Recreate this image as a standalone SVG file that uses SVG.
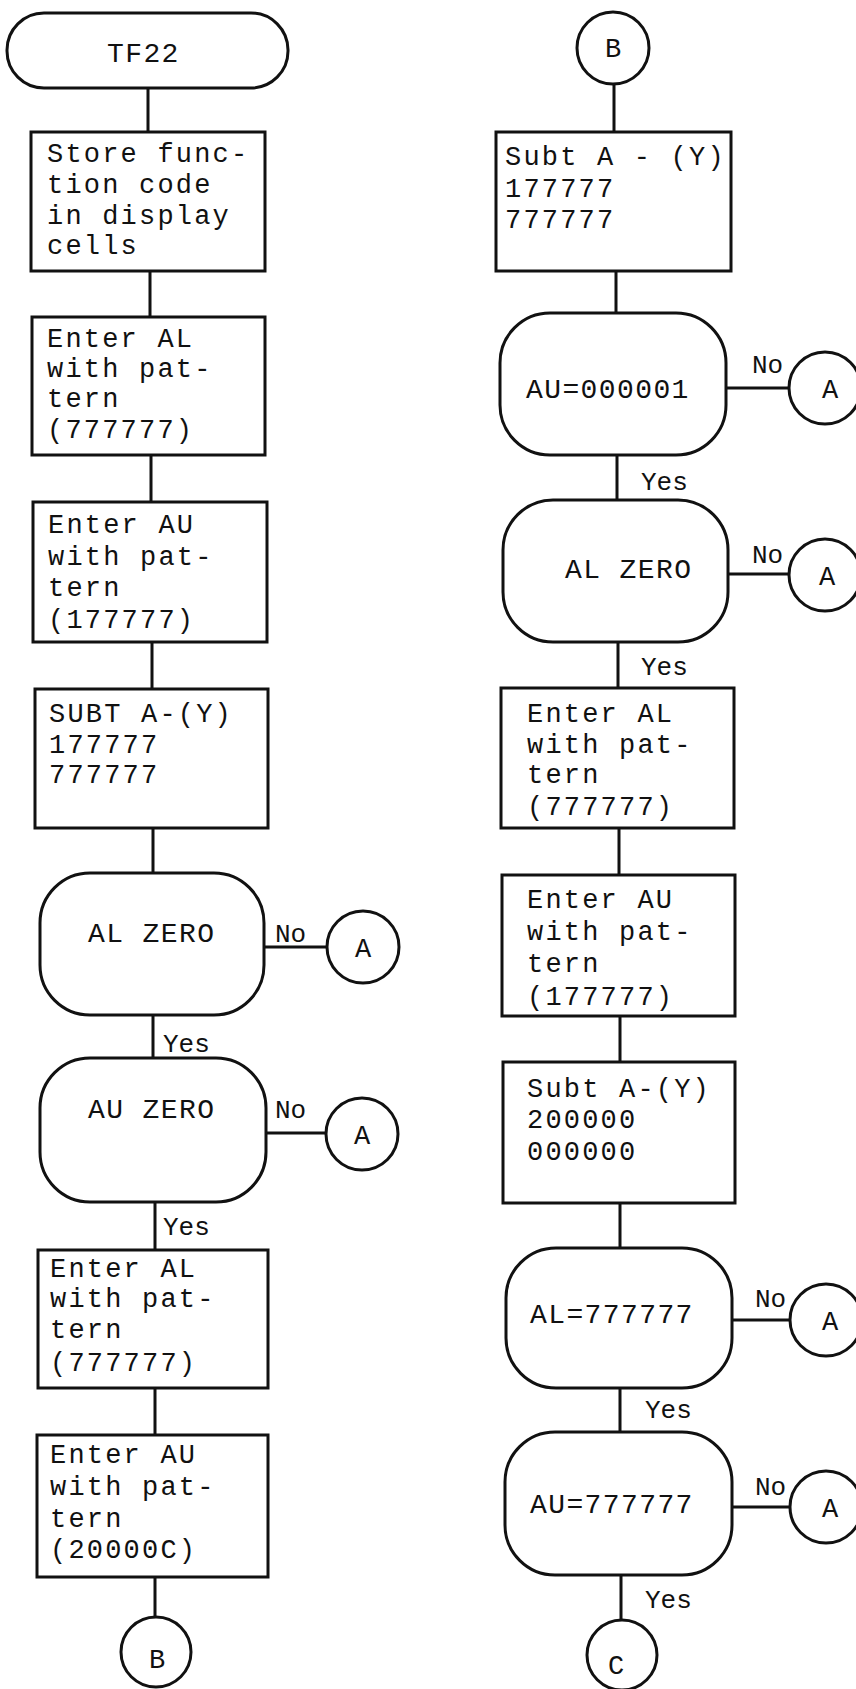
<svg xmlns="http://www.w3.org/2000/svg" width="856" height="1689" viewBox="0 0 856 1689">
<style>
.shape{fill:none;stroke:#111;stroke-width:3}
.conn{stroke:#111;stroke-width:3;fill:none}
.t{font-family:"Liberation Mono","Courier New",monospace;font-size:27px;letter-spacing:2.2px;fill:#111}
.d{font-family:"Liberation Mono","Courier New",monospace;font-size:28px;letter-spacing:1.4px;fill:#111}
.c{font-family:"Liberation Mono","Courier New",monospace;font-size:27px;fill:#111;text-anchor:middle}
.l{font-family:"Liberation Mono","Courier New",monospace;font-size:26px;letter-spacing:0px;fill:#111}
</style>
<rect width="856" height="1689" fill="#fff"/>
<g id="connectors">
<path class="conn" d="M148 88V132M150 271V317M151 455V502M152 642V689M153 828V873M264 947H327M153 1015V1058M266 1133H326M155 1202V1250M155 1388V1435M155 1577V1617"/>
<path class="conn" d="M614 84V132M616 271V313M726 388H789M617 455V500M728 574H789M618 642V688M619 828V875M620 1016V1062M620 1203V1248M732 1320H790M620 1388V1432M732 1507H790M621 1575V1620"/>
<text class="l" x="275" y="942">No</text>
<text class="l" x="163" y="1052">Yes</text>
<text class="l" x="275" y="1118">No</text>
<text class="l" x="163" y="1235">Yes</text>
<text class="l" x="752" y="373">No</text>
<text class="l" x="641" y="490">Yes</text>
<text class="l" x="752" y="563">No</text>
<text class="l" x="641" y="675">Yes</text>
<text class="l" x="755" y="1307">No</text>
<text class="l" x="645" y="1418">Yes</text>
<text class="l" x="755" y="1495">No</text>
<text class="l" x="645" y="1608">Yes</text>
</g>
<g id="n_tf22"><rect class="shape" x="7" y="13" width="281" height="75" rx="37"/><text class="d" x="107" y="62">TF22</text></g>
<g id="n_store"><rect class="shape" x="31" y="132" width="234" height="139"/>
<text class="t" x="47" y="162">Store func-</text><text class="t" x="47" y="193">tion code</text><text class="t" x="47" y="224">in display</text><text class="t" x="47" y="254">cells</text></g>
<g id="n_enteral1"><rect class="shape" x="32" y="317" width="233" height="138"/>
<text class="t" x="47" y="347">Enter AL</text><text class="t" x="47" y="377">with pat-</text><text class="t" x="47" y="407">tern</text><text class="t" x="47" y="438">(777777)</text></g>
<g id="n_enterau1"><rect class="shape" x="33" y="502" width="234" height="140"/>
<text class="t" x="48" y="533">Enter AU</text><text class="t" x="48" y="565">with pat-</text><text class="t" x="48" y="596">tern</text><text class="t" x="48" y="628">(177777)</text></g>
<g id="n_subt1"><rect class="shape" x="35" y="689" width="233" height="139"/>
<text class="t" x="49" y="722">SUBT A-(Y)</text><text class="t" x="49" y="753">177777</text><text class="t" x="49" y="783">777777</text></g>
<g id="n_alzero1"><rect class="shape" x="40" y="873" width="224" height="142" rx="50"/><text class="d" x="88" y="942">AL ZERO</text></g>
<g id="n_a1"><circle class="shape" cx="363" cy="947" r="36"/><text class="c" x="363" y="957">A</text></g>
<g id="n_auzero1"><rect class="shape" x="40" y="1058" width="226" height="144" rx="50"/><text class="d" x="88" y="1118">AU ZERO</text></g>
<g id="n_a2"><circle class="shape" cx="362" cy="1134" r="36"/><text class="c" x="362" y="1144">A</text></g>
<g id="n_enteral2"><rect class="shape" x="38" y="1250" width="230" height="138"/>
<text class="t" x="50" y="1277">Enter AL</text><text class="t" x="50" y="1307">with pat-</text><text class="t" x="50" y="1338">tern</text><text class="t" x="50" y="1371">(777777)</text></g>
<g id="n_enterau2"><rect class="shape" x="37" y="1435" width="231" height="142"/>
<text class="t" x="50" y="1463">Enter AU</text><text class="t" x="50" y="1495">with pat-</text><text class="t" x="50" y="1527">tern</text><text class="t" x="50" y="1558">(20000C)</text></g>
<g id="n_b1"><circle class="shape" cx="156" cy="1652" r="35"/><text class="c" x="157" y="1668">B</text></g>
<g id="n_b2"><circle class="shape" cx="613" cy="48" r="36"/><text class="c" x="613" y="57">B</text></g>
<g id="n_subt2"><rect class="shape" x="496" y="132" width="235" height="139"/>
<text class="t" x="505" y="165">Subt A - (Y)</text><text class="t" x="505" y="197">177777</text><text class="t" x="505" y="228">777777</text></g>
<g id="n_au1"><rect class="shape" x="500" y="313" width="226" height="142" rx="50"/><text class="d" x="526" y="398">AU=000001</text></g>
<g id="n_a3"><circle class="shape" cx="825" cy="388" r="36"/><text class="c" x="830" y="398">A</text></g>
<g id="n_alzero2"><rect class="shape" x="503" y="500" width="225" height="142" rx="50"/><text class="d" x="565" y="578">AL ZERO</text></g>
<g id="n_a4"><circle class="shape" cx="825" cy="575" r="36"/><text class="c" x="827" y="585">A</text></g>
<g id="n_enteral3"><rect class="shape" x="501" y="688" width="233" height="140"/>
<text class="t" x="527" y="722">Enter AL</text><text class="t" x="527" y="753">with pat-</text><text class="t" x="527" y="783">tern</text><text class="t" x="527" y="815">(777777)</text></g>
<g id="n_enterau3"><rect class="shape" x="502" y="875" width="233" height="141"/>
<text class="t" x="527" y="908">Enter AU</text><text class="t" x="527" y="940">with pat-</text><text class="t" x="527" y="972">tern</text><text class="t" x="527" y="1005">(177777)</text></g>
<g id="n_subt3"><rect class="shape" x="503" y="1062" width="232" height="141"/>
<text class="t" x="527" y="1097">Subt A-(Y)</text><text class="t" x="527" y="1128">200000</text><text class="t" x="527" y="1160">000000</text></g>
<g id="n_al7"><rect class="shape" x="506" y="1248" width="226" height="140" rx="50"/><text class="d" x="530" y="1323">AL=777777</text></g>
<g id="n_a5"><circle class="shape" cx="826" cy="1320" r="36"/><text class="c" x="830" y="1330">A</text></g>
<g id="n_au7"><rect class="shape" x="505" y="1432" width="227" height="143" rx="50"/><text class="d" x="530" y="1513">AU=777777</text></g>
<g id="n_a6"><circle class="shape" cx="826" cy="1507" r="36"/><text class="c" x="830" y="1517">A</text></g>
<g id="n_c"><circle class="shape" cx="622" cy="1655" r="35"/><text class="c" x="616" y="1674">C</text></g>
</svg>
